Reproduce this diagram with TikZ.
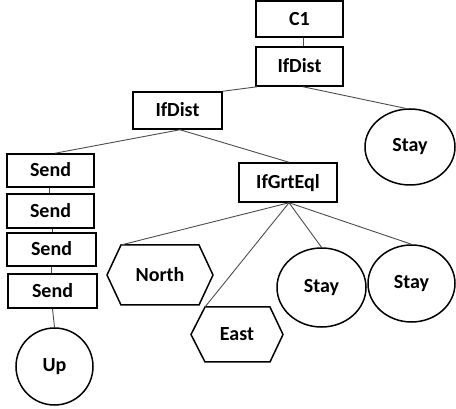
\documentclass[tikz,border=0pt]{standalone}
\usepackage{fontspec}
\setmainfont{Carlito}
\usetikzlibrary{calc,shapes.geometric}
\begin{document}
\begin{tikzpicture}[x=1pt,y=-1pt,
  every node/.style={font=\fontsize{20}{24}\selectfont\bfseries, inner sep=0pt},
  box/.style={draw, line width=1.5pt, rectangle, text height=13pt, text depth=0pt},
  oval/.style={draw, line width=1.5pt, ellipse},
  hexline/.style={line width=1.5pt, line join=miter},
  link/.style={draw=black!70, line width=0.9pt}]
\useasboundingbox (0,0) rectangle (456,409);

% rectangular nodes
\node[box, minimum width=87pt, minimum height=36pt] (c1) at (299.5,19) {C1};
\node[box, minimum width=87pt, minimum height=39pt] (ifdistA) at (299.5,66.5) {IfDist};
\node[box, minimum width=89pt, minimum height=37pt] (ifdistB) at (177.5,110.5) {IfDist};
\node[box, minimum width=87pt, minimum height=33pt] (sendA) at (50.5,170.5) {Send};
\node[box, minimum width=87pt, minimum height=34pt] (sendB) at (50.5,211) {Send};
\node[box, minimum width=89pt, minimum height=33pt] (sendC) at (51.5,249.5) {Send};
\node[box, minimum width=89pt, minimum height=34pt] (sendD) at (52.5,291) {Send};
\node[box, minimum width=98pt, minimum height=39pt] (ifgrt) at (288,182.5) {IfGrtEql};

% round nodes
\node[oval, minimum width=90pt, minimum height=76pt] (stayTop) at (410,147) {Stay};
\node[oval, minimum width=89pt, minimum height=79pt] (stayMid) at (321.5,287.5) {Stay};
\node[oval, minimum width=87pt, minimum height=77pt] (stayRight) at (411.5,283.5) {Stay};
\node[oval, minimum width=77pt, minimum height=77pt] (up) at (54.5,366.5) {Up};

% hexagonal nodes
\node (north) at (160,275) {North};
\draw[hexline] ($(north)+(-53,0)$) -- ($(north)+(-39,-30)$) -- ($(north)+(39,-30)$)
  -- ($(north)+(53,0)$) -- ($(north)+(39,30)$) -- ($(north)+(-39,30)$) -- cycle;
\coordinate (northTL) at ($(north)+(-39,-30)$);

\node (east) at (237,334.5) {East};
\draw[hexline] ($(east)+(-46,0)$) -- ($(east)+(-32,-27.5)$) -- ($(east)+(33,-27.5)$)
  -- ($(east)+(46,0)$) -- ($(east)+(33,27.5)$) -- ($(east)+(-32,27.5)$) -- cycle;
\coordinate (eastTL) at ($(east)+(-32,-27.5)$);

% connectors
\path[link] ([xshift=3.5pt]c1.south) -- ([xshift=3.5pt]ifdistA.north);
\path[link] ([xshift=2pt]ifdistA.south west) -- (ifdistB.north east);
\path[link] ([xshift=3.5pt]ifdistA.south) -- ([xshift=-5pt]stayTop.north);
\path[link] ([xshift=2.5pt]ifdistB.south) -- ([xshift=4.5pt]sendA.north);
\path[link] ([xshift=2.5pt]ifdistB.south) -- ([xshift=1pt]ifgrt.north);
\path[link] ([xshift=-1.5pt]sendA.south) -- ([xshift=-1.5pt]sendB.north);
\path[link] ([xshift=1.5pt]sendB.south) -- ([xshift=0.5pt]sendC.north);
\path[link] ([xshift=-0.5pt]sendC.south) -- ([xshift=-1.5pt]sendD.north);
\path[link] (sendD.south) -- (up.north);
\path[link] ([xshift=1pt]ifgrt.south) -- (northTL);
\path[link] ([xshift=1pt]ifgrt.south) -- (eastTL);
\path[link] ([xshift=1pt]ifgrt.south) -- (stayMid.north);
\path[link] ([xshift=1pt]ifgrt.south) -- (stayRight.north);
\end{tikzpicture}
\end{document}
